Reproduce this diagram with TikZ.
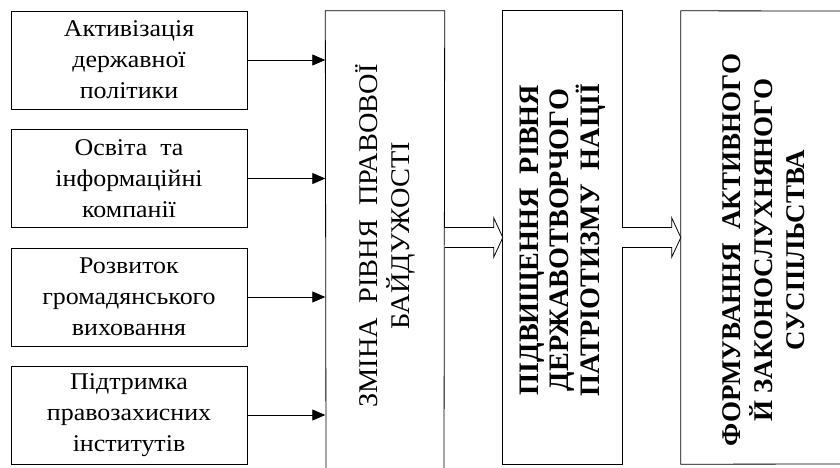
\documentclass[tikz,border=0pt]{standalone}
\usepackage{fontspec}
\setmainfont{Liberation Serif}
\newfontfamily\wideserif[FakeStretch=1.08]{Liberation Serif}
\newfontfamily\midserif[FakeStretch=1.05]{Liberation Serif}
\usetikzlibrary{arrows.meta}
\tikzset{
  leftbox/.style={draw, line width=0.8pt, minimum width=236pt, minimum height=98pt, inner sep=0pt,
    align=center, font=\wideserif\fontsize{24}{31}\selectfont},
  frame/.style={minimum width=119pt, minimum height=453pt, inner sep=0pt},
  vtext/.style={rotate=90, align=center, inner sep=0pt},
  thinline/.style={line width=0.8pt},
  inarrow/.style={line width=0.8pt, -{Triangle[length=13pt,width=11pt]}},
  hollow/.style={line width=0.8pt, fill=white}
}
\begin{document}
\begin{tikzpicture}[x=1pt,y=-1pt]
\useasboundingbox (0,0) rectangle (840,467);
% left boxes
\node[leftbox] (l1) at (129,60) {Активізація\\державної\\політики};
\node[leftbox] (l2) at (129,178.5) {Освіта\ \ та\\інформаційні\\компанії};
\node[leftbox] (l3) at (129,297) {Розвиток\\громадянського\\виховання};
\node[leftbox] (l4) at (129,415) {Підтримка\\правозахисних\\інститутів};
% big frames
\node[frame] (b1) at (385,237.5) {};
\node[frame] (b2) at (562.5,237.5) {};
\node[frame, minimum width=170pt] (b3) at (766,237.5) {};
\draw[thinline] (326,470) -- (b1.north west) -- (b1.north east) -- (444,470);
\draw[thinline] (b2.north west) rectangle (b2.south east);
\draw[thinline] (850,11) -- (b3.north west) -- (b3.south west) -- (850,464);
% texts
\node[vtext, font=\midserif\fontsize{27}{32}\selectfont] (t1) at (385,236) {ЗМІНА\ \ РІВНЯ\ \ ПРАВОВОЇ\\БАЙДУЖОСТІ};
\node[vtext, font=\bfseries\fontsize{28.2}{30.5}\selectfont] (t2) at (562.5,240) {ПІДВИЩЕННЯ\ \ РІВНЯ\\ДЕРЖАВОТВОРЧОГО\\ПАТРІОТИЗМУ\ \ НАЦІЇ};
\node[vtext, font=\bfseries\fontsize{27}{32}\selectfont] (t3) at (764,250) {ФОРМУВАННЯ\ \ АКТИВНОГО\\Й ЗАКОНОСЛУХНЯНОГО\\СУСПІЛЬСТВА};
% input arrows
\foreach \i in {1,2,3,4} \draw[inarrow] (l\i.east) -- (l\i.east -| b1.west);
% hollow arrows
\coordinate (h1) at (b1.east);
\coordinate (h2) at (b2.east);
\foreach \s/\t in {h1/b2, h2/b3} {
  \coordinate (hb) at ([xshift=-9pt]\t.west);
  \draw[hollow] ([yshift=10pt]\s) -- ([yshift=10pt]\s -| hb) -- ([yshift=19.5pt]hb)
    -- (\t.west) -- ([yshift=-19.5pt]hb) -- ([yshift=-10pt]hb) -- ([yshift=-10pt]\s);
}
\end{tikzpicture}
\end{document}
